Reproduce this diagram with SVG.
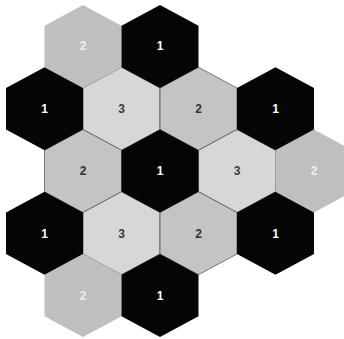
<svg xmlns="http://www.w3.org/2000/svg" width="344" height="339" viewBox="0 0 344 339">
  <defs>
    <polygon id="hex" points="0,-41.5 38.5,-20.75 38.5,20.75 0,41.5 -38.5,20.75 -38.5,-20.75"/>
  </defs>
  <style>
    .black { fill: #050505; }
    .outer2 { fill: #bfbfbf; }
    .inner2 { fill: #c4c4c4; stroke: #4a4a4a; stroke-width: 0.7; }
    .inner3 { fill: #d7d7d7; stroke: #4a4a4a; stroke-width: 0.7; }
    text { font-family: "Liberation Sans", Arial, sans-serif; font-weight: bold; font-size: 12px; text-anchor: middle; dominant-baseline: central; }
    .t1 { fill: #ffffff; }
    .to2 { fill: #eeeeee; }
    .ti2 { fill: #333333; }
    .t3 { fill: #3a3a3a; }
  </style>
  <rect width="344" height="339" fill="#ffffff"/>

  <!-- inner ring (drawn with strokes) -->
  <g id="r2c2"><use href="#hex" x="121.5" y="108.75" class="inner3"/><text x="121.5" y="109" class="t3">3</text></g>
  <g id="r2c3"><use href="#hex" x="198.5" y="108.75" class="inner2"/><text x="198.5" y="109" class="ti2">2</text></g>
  <g id="r3c1"><use href="#hex" x="83" y="171" class="inner2"/><text x="83" y="171" class="ti2">2</text></g>
  <g id="r3c3"><use href="#hex" x="237" y="171" class="inner3"/><text x="237" y="171" class="t3">3</text></g>
  <g id="r4c2"><use href="#hex" x="121.5" y="233.25" class="inner3"/><text x="121.5" y="233.5" class="t3">3</text></g>
  <g id="r4c3"><use href="#hex" x="198.5" y="233.25" class="inner2"/><text x="198.5" y="233.5" class="ti2">2</text></g>

  <!-- outer gray 2s -->
  <g id="r1c1"><use href="#hex" x="83" y="46.5" class="outer2"/><text x="83" y="46" class="to2">2</text></g>
  <g id="r3c4"><use href="#hex" x="314" y="171" class="outer2"/><text x="314" y="171" class="to2">2</text></g>
  <g id="r5c1"><use href="#hex" x="83" y="295.5" class="outer2"/><text x="83" y="295.5" class="to2">2</text></g>

  <!-- black 1s -->
  <g id="r1c2"><use href="#hex" x="160" y="46.5" class="black"/><text x="160" y="46" class="t1">1</text></g>
  <g id="r2c1"><use href="#hex" x="44.5" y="108.75" class="black"/><text x="44.5" y="109" class="t1">1</text></g>
  <g id="r2c4"><use href="#hex" x="275.5" y="108.75" class="black"/><text x="275.5" y="109" class="t1">1</text></g>
  <g id="r3c2"><use href="#hex" x="160" y="171" class="black"/><text x="160" y="171" class="t1">1</text></g>
  <g id="r4c1"><use href="#hex" x="44.5" y="233.25" class="black"/><text x="44.5" y="233.5" class="t1">1</text></g>
  <g id="r4c4"><use href="#hex" x="275.5" y="233.25" class="black"/><text x="275.5" y="233.5" class="t1">1</text></g>
  <g id="r5c2"><use href="#hex" x="160" y="295.5" class="black"/><text x="160" y="295.5" class="t1">1</text></g>
</svg>
